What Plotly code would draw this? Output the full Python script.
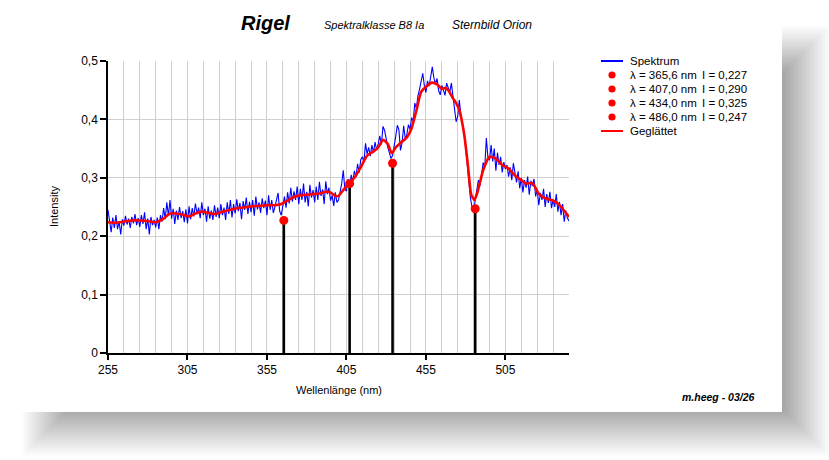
import plotly.graph_objects as go

# ---------------- data ----------------
wl_start = 255  # spectrum sampled every 1 nm from 255 to 545
spectrum = [
    0.245, 0.228, 0.207, 0.232, 0.214, 0.236, 0.212, 0.225, 0.203, 0.229,
    0.218, 0.235, 0.220, 0.230, 0.214, 0.233, 0.222, 0.238, 0.219, 0.231,
    0.216, 0.236, 0.221, 0.241, 0.212, 0.230, 0.203, 0.233, 0.219, 0.228,
    0.215, 0.232, 0.212, 0.236, 0.225, 0.248, 0.229, 0.258, 0.235, 0.262,
    0.230, 0.247, 0.221, 0.244, 0.228, 0.250, 0.231, 0.243, 0.224, 0.246,
    0.222, 0.251, 0.229, 0.248, 0.234, 0.256, 0.238, 0.249, 0.231, 0.258,
    0.236, 0.247, 0.225, 0.251, 0.230, 0.244, 0.228, 0.253, 0.233, 0.249,
    0.231, 0.255, 0.236, 0.249, 0.228, 0.258, 0.238, 0.262, 0.232, 0.255,
    0.239, 0.263, 0.243, 0.257, 0.229, 0.260, 0.245, 0.266, 0.238, 0.259,
    0.241, 0.262, 0.235, 0.268, 0.246, 0.258, 0.240, 0.265, 0.248, 0.261,
    0.236, 0.270, 0.245, 0.262, 0.240, 0.250, 0.262, 0.274, 0.243, 0.236,
    0.252, 0.268, 0.249, 0.275, 0.256, 0.283, 0.259, 0.277, 0.262, 0.285,
    0.255, 0.281, 0.262, 0.290, 0.258, 0.276, 0.251, 0.288, 0.266, 0.279,
    0.258, 0.285, 0.262, 0.293, 0.269, 0.280, 0.255, 0.294, 0.272, 0.283,
    0.261, 0.270, 0.252, 0.275, 0.258, 0.262, 0.276, 0.290, 0.313, 0.280,
    0.277, 0.298, 0.284, 0.305, 0.293, 0.312, 0.301, 0.324, 0.309, 0.331,
    0.336, 0.328, 0.359, 0.341, 0.352, 0.337, 0.356, 0.343, 0.361, 0.348,
    0.358, 0.372, 0.357, 0.388, 0.381, 0.365, 0.352, 0.343, 0.333, 0.338,
    0.352, 0.371, 0.390, 0.382, 0.347, 0.360, 0.389, 0.367, 0.374, 0.391,
    0.383, 0.403, 0.397, 0.428, 0.419, 0.441, 0.452, 0.468, 0.479, 0.458,
    0.446, 0.466, 0.457, 0.473, 0.490, 0.471, 0.461, 0.470, 0.449, 0.442,
    0.458, 0.450, 0.441, 0.462, 0.455, 0.447, 0.462, 0.438, 0.420, 0.396,
    0.405, 0.433, 0.408, 0.392, 0.376, 0.352, 0.320, 0.290, 0.265, 0.250,
    0.240, 0.262, 0.282, 0.296, 0.286, 0.312, 0.326, 0.318, 0.368, 0.335,
    0.330, 0.356, 0.328, 0.350, 0.312, 0.343, 0.322, 0.336, 0.309, 0.327,
    0.315, 0.322, 0.302, 0.318, 0.296, 0.325, 0.304, 0.292, 0.311, 0.282,
    0.300, 0.275, 0.296, 0.283, 0.302, 0.271, 0.295, 0.286, 0.298, 0.268,
    0.280, 0.253, 0.274, 0.262, 0.281, 0.250, 0.272, 0.257, 0.276, 0.248,
    0.263, 0.250, 0.272, 0.242, 0.259, 0.236, 0.255, 0.225, 0.244, 0.231,
    0.226,
]
wavelength = [wl_start + i for i in range(len(spectrum))]

smooth_wl = [255, 260, 265, 270, 275, 280, 285, 290, 294, 298, 302, 306, 310, 314,
             318, 322, 326, 330, 335, 340, 345, 350, 355, 360, 364, 368, 372, 376,
             380, 384, 388, 392, 395, 398, 400, 403, 406, 410, 414, 418, 422, 425,
             428, 431, 433.5, 436, 440, 443, 446, 449, 452, 455, 459, 462, 465, 467,
             469, 472, 474, 476, 479, 481.5, 483.5, 485.5, 487.5, 491, 495, 499, 503,
             507, 511, 515, 518, 522, 526, 530, 534, 538, 541, 545]
smooth_I = [0.224, 0.223, 0.225, 0.227, 0.227, 0.226, 0.224, 0.230, 0.239, 0.239,
            0.237, 0.234, 0.239, 0.242, 0.240, 0.238, 0.241, 0.244, 0.247, 0.249,
            0.251, 0.252, 0.253, 0.253, 0.255, 0.261, 0.267, 0.270, 0.271, 0.272,
            0.273, 0.276, 0.275, 0.269, 0.269, 0.279, 0.289, 0.300, 0.318, 0.338,
            0.345, 0.352, 0.365, 0.358, 0.342, 0.352, 0.362, 0.369, 0.385, 0.415,
            0.447, 0.456, 0.463, 0.460, 0.452, 0.454, 0.450, 0.436, 0.428, 0.416,
            0.376, 0.319, 0.271, 0.262, 0.276, 0.313, 0.336, 0.333, 0.322, 0.316,
            0.304, 0.296, 0.290, 0.291, 0.273, 0.265, 0.262, 0.256, 0.247, 0.233]

line_wl = [365.6, 407.0, 434.0, 486.0]
line_I = [0.227, 0.290, 0.325, 0.247]

x_ticks = [255, 305, 355, 405, 455, 505]
y_ticks = [0, 0.1, 0.2, 0.3, 0.4, 0.5]
y_ticklabels = ["0", "0,1", "0,2", "0,3", "0,4", "0,5"]

title_main = "Rigel"
title_class = "Spektralklasse B8 Ia"
title_const = "Sternbild Orion"
footer = "m.heeg - 03/26"

# ---------------- layout helpers ----------------
W, H = 829, 460
L, R, T, B = 108, 569, 61, 353
FONT = "Liberation Sans, Arial, sans-serif"


def px(x):
    return (x - L) / (R - L)


def py(y):
    return (B - y) / (B - T)


fig = go.Figure()

fig.add_trace(go.Scatter(x=wavelength, y=spectrum, mode="lines",
                         line=dict(color="#0000ff", width=1.1), name="Spektrum",
                         showlegend=False))
fig.add_trace(go.Scatter(x=smooth_wl, y=smooth_I, mode="lines",
                         line=dict(color="#ff0000", width=2.6, shape="spline", smoothing=0.6),
                         name="Geglättet", showlegend=False))
for lw, li in zip(line_wl, line_I):
    fig.add_trace(go.Scatter(x=[lw, lw], y=[0, li], mode="lines",
                             line=dict(color="black", width=2.6), showlegend=False,
                             hoverinfo="skip"))
fig.add_trace(go.Scatter(x=line_wl, y=line_I, mode="markers",
                         marker=dict(color="#ff0000", size=9), showlegend=False))

shapes = []
# soft drop shadow (many thin translucent layers), offset to lower right
n, step = 30, 1.6
for i in range(n):
    d = i * step
    shapes.append(dict(type="rect", xref="paper", yref="paper", layer="below",
                       x0=px(22 + d), x1=px(830 - d), y0=py(26 + d), y1=py(456 - d),
                       fillcolor="rgba(0,0,0,0.012)", line=dict(width=0, color="rgba(0,0,0,0)")))
# card
shapes.append(dict(type="rect", xref="paper", yref="paper", layer="below",
                   x0=px(15), x1=px(782), y0=py(4), y1=py(412),
                   fillcolor="white", line=dict(width=0, color="rgba(0,0,0,0)")))

annotations = []


def text(x, y, s, size=11, xanchor="left", yanchor="middle", **kw):
    annotations.append(dict(xref="paper", yref="paper", x=px(x), y=py(y), text=s,
                            showarrow=False, xanchor=xanchor, yanchor=yanchor,
                            font=dict(family=FONT, size=size, color="black"), **kw))


# titles
text(265, 23, "<b><i>" + title_main + "</i></b>", size=20, xanchor="center")
text(322, 25, "<i>" + title_class + "</i>", size=11)
text(450, 25, "<i>" + title_const + "</i>", size=12)
# axis titles
text(338.5, 390, "Wellenlänge (nm)", size=11, xanchor="center")
text(54, 207, "Intensity", size=11, xanchor="center", textangle=-90)
# footer
text(757, 397, "<b><i>" + footer + "</i></b>", size=10.5, xanchor="right")

# custom legend
leg_x0, leg_x1, leg_txt = 601, 623, 628
LEG_FS = 11.5
shapes.append(dict(type="line", xref="paper", yref="paper", x0=px(leg_x0), x1=px(leg_x1),
                   y0=py(61), y1=py(61), line=dict(color="#0000ff", width=2)))
text(leg_txt, 61, "Spektrum", size=LEG_FS)
for k, (lw, li) in enumerate(zip(line_wl, line_I)):
    yy = 75 + 14 * k
    shapes.append(dict(type="circle", xref="paper", yref="paper",
                       x0=px(612 - 3.6), x1=px(612 + 3.6), y0=py(yy + 3.6), y1=py(yy - 3.6),
                       fillcolor="#ff0000", line=dict(width=0, color="rgba(0,0,0,0)")))
    text(leg_txt, yy, ("λ = %.1f nm" % lw).replace(".", ","), size=LEG_FS)
    text(700, yy, ("I = %.3f" % li).replace(".", ","), size=LEG_FS)
shapes.append(dict(type="line", xref="paper", yref="paper", x0=px(leg_x0), x1=px(leg_x1),
                   y0=py(131), y1=py(131), line=dict(color="#ff0000", width=2)))
text(leg_txt, 131, "Geglättet", size=LEG_FS)

fig.update_layout(
    width=W, height=H,
    margin=dict(l=L, r=W - R, t=T, b=H - B, pad=0),
    paper_bgcolor="white", plot_bgcolor="rgba(0,0,0,0)",
    showlegend=False,
    shapes=shapes, annotations=annotations,
    font=dict(family=FONT, size=12, color="black"),
    xaxis=dict(range=[255, 545], tickmode="array", tickvals=x_ticks,
               ticks="outside", ticklen=5, tickwidth=1.5, tickcolor="black",
               showline=True, linecolor="black", linewidth=1.5,
               showgrid=True, gridcolor="#d0d0d0", gridwidth=1,
               minor=dict(tick0=255, dtick=10, showgrid=True, gridcolor="#d0d0d0",
                          gridwidth=1, ticks=""),
               tickfont=dict(size=12, family=FONT), zeroline=False, fixedrange=True),
    yaxis=dict(range=[0, 0.5], tickmode="array", tickvals=y_ticks, ticktext=y_ticklabels,
               ticks="outside", ticklen=6, tickwidth=1.5, tickcolor="black",
               showline=True, linecolor="black", linewidth=1.5,
               showgrid=True, gridcolor="#d0d0d0", gridwidth=1,
               tickfont=dict(size=12, family=FONT), zeroline=False, fixedrange=True),
)

fig.write_html("out.html")
